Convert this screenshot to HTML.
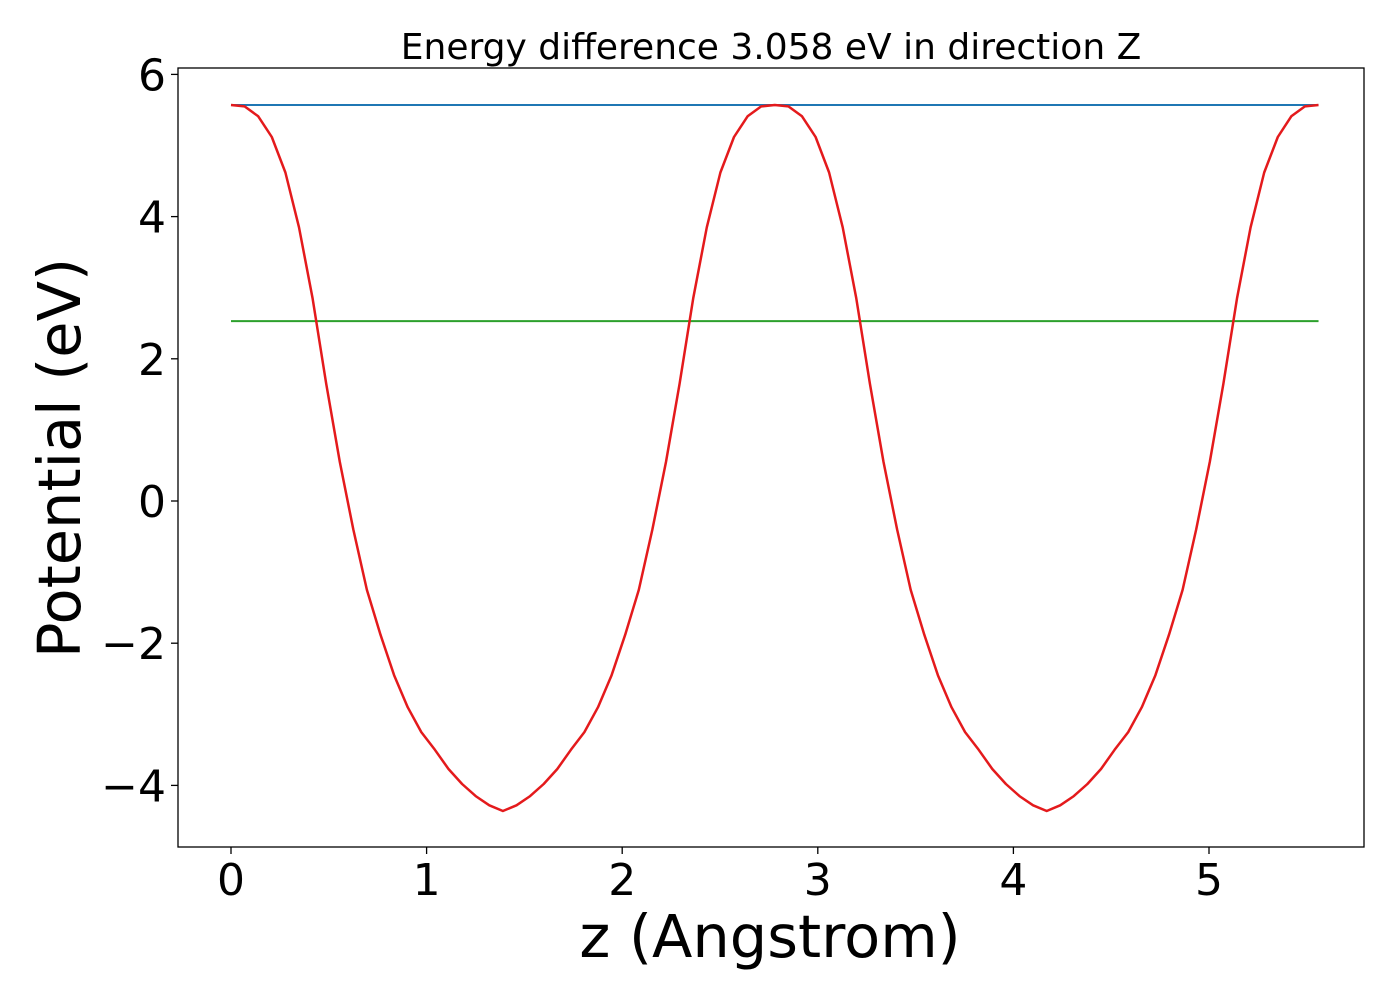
<!DOCTYPE html>
<html><head><meta charset="utf-8"><style>
body{margin:0;background:#fff;}
svg{display:block;font-family:"DejaVu Sans","Liberation Sans",sans-serif;}
</style></head><body>
<svg id="chart" width="1400" height="1000" viewBox="0 0 1400 1000" xmlns="http://www.w3.org/2000/svg">
<rect width="1400" height="1000" fill="#fff"/>
<text x="771" y="59" font-size="36" text-anchor="middle">Energy difference 3.058 eV in direction Z</text>
<g id="ticks"></g>
<g id="series"></g>
<rect x="178" y="68" width="1186" height="779" fill="none" stroke="#000" stroke-width="1.3"/>
<text x="770" y="957" font-size="59" text-anchor="middle">z (Angstrom)</text>
<text transform="translate(80,458) rotate(-90)" font-size="59" text-anchor="middle">Potential (eV)</text>
</svg>
<script>
const xTicks=[0,1,2,3,4,5];
const yTicks=[-4,-2,0,2,4,6];
const step=0.0695;
const potential=[5.57,5.55,5.41,5.12,4.62,3.85,2.85,1.65,0.55,-0.4,-1.25,-1.88,-2.45,-2.9,-3.25,-3.5,-3.77,-3.98,-4.15,-4.28,-4.36,
-4.28,-4.15,-3.98,-3.77,-3.5,-3.25,-2.9,-2.45,-1.88,-1.25,-0.4,0.55,1.65,2.85,3.85,4.62,5.12,5.41,5.55,5.57,
5.55,5.41,5.12,4.62,3.85,2.85,1.65,0.55,-0.4,-1.25,-1.88,-2.45,-2.9,-3.25,-3.5,-3.77,-3.98,-4.15,-4.28,-4.36,
-4.28,-4.15,-3.98,-3.77,-3.5,-3.25,-2.9,-2.45,-1.88,-1.25,-0.4,0.55,1.65,2.85,3.85,4.62,5.12,5.41,5.55,5.57];
const maxLevel=5.57;
const refLevel=2.53;
const NS="http://www.w3.org/2000/svg";
const X=v=>231+v*195.6;
const Y=v=>501-v*71.1;
const tg=document.getElementById('ticks');
const sg=document.getElementById('series');
function mk(tag,attrs,parent){const e=document.createElementNS(NS,tag);for(const k in attrs)e.setAttribute(k,attrs[k]);parent.appendChild(e);return e;}
xTicks.forEach(t=>{
  const l=mk('line',{x1:X(t),x2:X(t),y1:847,y2:854,stroke:'#000','stroke-width':1.3},tg);
  
  
  const s=mk('text',{x:X(t),y:895,'font-size':44,'text-anchor':'middle'},tg);
  s.textContent=String(t);
  
  
});
yTicks.forEach(t=>{
  const l=mk('line',{x1:171,x2:178,y1:Y(t),y2:Y(t),stroke:'#000','stroke-width':1.3},tg);
  
  
  const s=mk('text',{x:166,y:Y(t)+16,'font-size':44,'text-anchor':'end'},tg);
  s.textContent=t<0?'\u2212'+Math.abs(t):String(t);
  
  
});
const xmax=(potential.length-1)*step;
const bl=mk('line',{x1:X(0),x2:X(xmax),y1:Y(maxLevel),y2:Y(maxLevel),stroke:'#1f77b4','stroke-width':2},sg);


const gl=mk('line',{x1:X(0),x2:X(xmax),y1:Y(refLevel),y2:Y(refLevel),stroke:'#2ca02c','stroke-width':2},sg);


const pts=potential.map((v,i)=>X(i*step).toFixed(1)+','+Y(v).toFixed(1)).join(' ');
const pl=mk('polyline',{points:pts,fill:'none',stroke:'#e41a1c','stroke-width':2.5,'stroke-linejoin':'round'},sg);


</script>
</body></html>
